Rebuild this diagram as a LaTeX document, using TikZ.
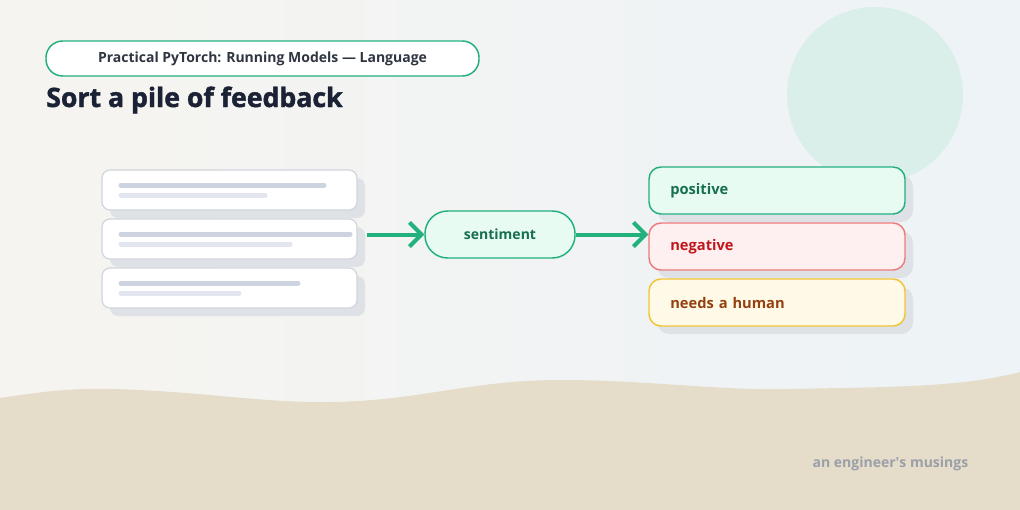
\documentclass[tikz,border=0pt]{standalone}
\usepackage{fontspec}
\setmainfont{Open Sans}
\newfontfamily\heavyfont{Open Sans}[BoldFeatures={FakeBold=1.6}]
\usetikzlibrary{arrows.meta,shadows}
\definecolor{bgwarm}{HTML}{F6F4F0}
\definecolor{bgcool}{HTML}{EDF3F7}
\definecolor{sand}{HTML}{E6DCCA}
\definecolor{blob}{HTML}{DAEEEA}
\definecolor{accent}{HTML}{22B07D}
\definecolor{ink}{HTML}{1B2236}
\definecolor{subink}{HTML}{2F3541}
\definecolor{cardedge}{HTML}{D0D4DB}
\definecolor{shade}{HTML}{DEE1E5}
\definecolor{barA}{HTML}{CDD3E0}
\definecolor{barB}{HTML}{E3E6EE}
\definecolor{mint}{HTML}{E8FBF3}
\definecolor{mintink}{HTML}{16704D}
\definecolor{rose}{HTML}{FEF0F0}
\definecolor{roseedge}{HTML}{EE7B7B}
\definecolor{roseink}{HTML}{C0171D}
\definecolor{cream}{HTML}{FFFAE8}
\definecolor{creamedge}{HTML}{F2C433}
\definecolor{creamink}{HTML}{95400F}
\definecolor{footink}{HTML}{9AA0A8}
\tikzset{
  card/.style={draw=cardedge, line width=0.9pt, fill=white, rounded corners=6pt,
    minimum width=191.25pt, minimum height=30pt,
    drop shadow={shadow xshift=6pt, shadow yshift=-6pt, fill=shade, opacity=1}},
  bar/.style={line width=3.75pt, line cap=round},
  pill/.style={draw=accent, line width=1.1pt, inner sep=0pt},
  label/.style={draw, line width=1.1pt, rounded corners=9pt, minimum width=192pt,
    minimum height=35.25pt, text width=160pt, align=left, font=\bfseries\fontsize{11}{13}\selectfont,
    drop shadow={shadow xshift=6pt, shadow yshift=-6pt, fill=shade, opacity=1}},
  flow/.style={accent, line width=3pt, -{Straight Barb[length=9pt, width=18pt, line width=3pt]}}
}
\begin{document}
\begin{tikzpicture}[x=0.75pt,y=0.75pt,yscale=-1,xscale=1]
\useasboundingbox (0,0) rectangle (1020,510);
% backdrop
\shade[left color=bgwarm, right color=bgcool] (0,0) rectangle (1020,510);
\fill[blob] (875,95) circle (88);
% sand wave
\fill[sand] (0,398) .. controls (40,392) and (70,388) .. (110,389) .. controls (200,391) and (260,403) .. (330,402) .. controls (420,401) and (470,380) .. (560,380) .. controls (650,380) and (720,391) .. (790,389) .. controls (880,387) and (960,388) .. (1020,372) -- (1020,510) -- (0,510) -- cycle;

% header
\node[pill, rounded corners=12.5pt, fill=white, minimum width=324.75pt, minimum height=26.25pt, text=subink, font=\bfseries\fontsize{10.5}{13}\selectfont] (series) at (262.5,58.5) {Practical PyTorch: Running Models — Language};
\node[anchor=base west, inner sep=0pt, text=ink, font=\heavyfont\bfseries\fontsize{20}{24}\selectfont] (heading) at (46,107) {Sort a pile of feedback};

% input pile
\node[card] (card1) at (229.5,190) {};
\node[card] (card2) at (229.5,239) {};
\node[card] (card3) at (229.5,288) {};
\draw[bar, barA] (121,185) -- (324,185);
\draw[bar, barB] (121,195) -- (265,195);
\draw[bar, barA] (121,234) -- (350,234);
\draw[bar, barB] (121,244) -- (290,244);
\draw[bar, barA] (121,283) -- (298,283);
\draw[bar, barB] (121,293) -- (239,293);

% classifier
\node[pill, rounded corners=17pt, fill=mint, minimum width=112.5pt, minimum height=35.25pt, text=mintink, font=\bfseries\fontsize{10.5}{13}\selectfont] (sentiment) at (500,234.5) {sentiment};

% outputs
\node[label, draw=accent, fill=mint, text=mintink] (positive) at (777,190.5) {positive};
\node[label, draw=roseedge, fill=rose, text=roseink] (negative) at (777,246.5) {negative};
\node[label, draw=creamedge, fill=cream, text=creamink] (human) at (777,302.5) {needs a human};

% arrows
\draw[flow, shorten <=7pt] (card2.east |- sentiment.west) -- (sentiment.west);
\draw[flow] (sentiment.east) -- (sentiment.east -| negative.west);

% footer
\node[anchor=east, text=footink, font=\bfseries\fontsize{10.5}{12}\selectfont] (footer) at (973,464) {an engineer\textquotesingle s musings};
\end{tikzpicture}
\end{document}
